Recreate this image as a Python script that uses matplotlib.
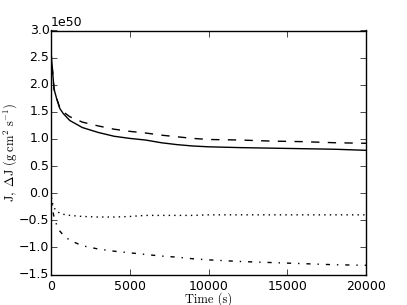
import numpy as np
import matplotlib
matplotlib.use("Agg")
import matplotlib.pyplot as plt

plt.style.use('classic')
plt.rcParams['mathtext.fontset'] = 'cm'
plt.rcParams['font.size'] = 9
plt.rcParams['ytick.major.pad'] = 1

# time axis (s)
time = [0, 50, 100, 200, 360, 570, 780, 1200, 2000, 3000, 4000, 5000,
        6000, 7000, 8000, 9000, 10000, 12000, 14000, 16000, 18000, 20000]

# angular momentum curves, units of 1e50 g cm^2 s^-1
j_solid = [2.65, 2.45, 2.28, 1.92, 1.75, 1.56, 1.47, 1.34, 1.21, 1.12, 1.05, 1.01,
           0.98, 0.93, 0.895, 0.87, 0.855, 0.84, 0.83, 0.82, 0.81, 0.79]
j_dashed = [2.65, 2.45, 2.28, 1.92, 1.75, 1.57, 1.50, 1.41, 1.31, 1.24, 1.18, 1.14,
            1.11, 1.07, 1.04, 1.01, 0.99, 0.98, 0.96, 0.95, 0.93, 0.92]
dj_dotted = [0.02, -0.10, -0.18, -0.27, -0.33, -0.37, -0.39, -0.41, -0.43, -0.44, -0.44, -0.43,
             -0.41, -0.41, -0.41, -0.41, -0.40, -0.40, -0.40, -0.40, -0.40, -0.40]
dj_dashdot = [0.0, -0.15, -0.28, -0.45, -0.58, -0.70, -0.77, -0.87, -0.97, -1.03, -1.07, -1.10,
              -1.13, -1.16, -1.18, -1.21, -1.23, -1.26, -1.28, -1.30, -1.32, -1.33]

scale = 1e50

fig = plt.figure(figsize=(4.07, 3.05), dpi=100, facecolor='white')
ax = fig.add_subplot(111)

ax.plot(time, np.array(j_solid) * scale, 'k-')
ax.plot(time, np.array(j_dashed) * scale, 'k--')
ax.plot(time, np.array(dj_dotted) * scale, 'k:')
ax.plot(time, np.array(dj_dashdot) * scale, 'k-.')

ax.set_xlim(0, 20000)
ax.set_ylim(-1.5e50, 3.0e50)
ax.set_xticks([0, 5000, 10000, 15000, 20000])
ax.set_yticks(np.arange(-1.5, 3.01, 0.5) * scale)

ax.set_xlabel('Time (s)', fontsize=9, fontname='cmr10')
ax.set_ylabel(r'$\mathrm{J,\ \Delta J\ (g\ cm^2\ s^{-1})}$', fontsize=9)
ax.xaxis.set_label_coords(0.5, -0.072)
ax.yaxis.set_label_coords(-0.1, 0.5)

fig.savefig('out.png', dpi=100, facecolor='white')
